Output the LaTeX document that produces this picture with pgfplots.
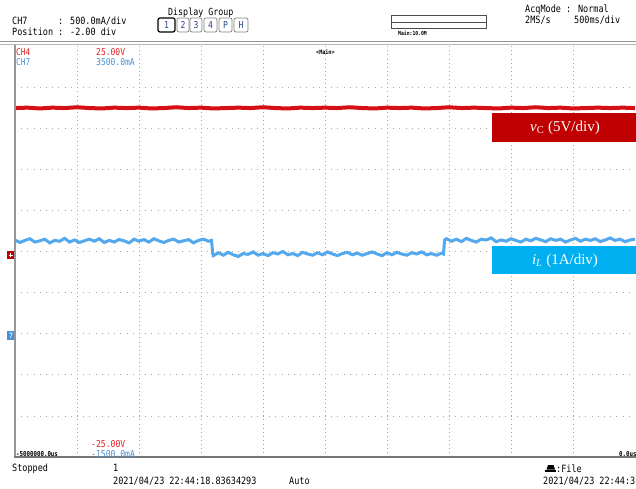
\documentclass[border=0pt]{standalone}
\usepackage{pgfplots}
\pgfplotsset{compat=1.18}
\usepackage{fontspec}
\newfontfamily\osc[FakeStretch=0.85]{DejaVu Sans Mono}
\newfontfamily\tnr{Liberation Serif}
\definecolor{sred}{RGB}{212,16,22}
\definecolor{sblue}{RGB}{84,168,238}
\definecolor{boxred}{RGB}{192,0,0}
\definecolor{boxblue}{RGB}{0,176,240}
\definecolor{lblred}{RGB}{225,30,30}
\definecolor{lblblue}{RGB}{70,145,215}
\definecolor{btn}{RGB}{40,70,140}
\definecolor{framec}{RGB}{150,150,150}
\definecolor{gridc}{RGB}{165,165,165}
\newcommand{\T}[5][black]{\node[anchor=base west,inner sep=0pt,text=#1,font=\osc\fontsize{#4}{#4}\selectfont] at (#2,488-#3) {#5};}
\begin{document}
\begin{tikzpicture}[x=1pt,y=1pt]
\clip (0,0) rectangle (636,488);
\fill[white] (0,0) rectangle (636,488);
\begin{axis}[at={(15pt,31pt)}, anchor=south west, scale only axis,
  width=620pt, height=411pt, xmin=-5, xmax=0, ymin=-5, ymax=5,
  axis line style={draw=none}, clip=false,
  xtick={-4.5,-4,...,-0.5}, ytick={-4,-3,...,4},
  xticklabels={}, yticklabels={}, major tick length=0pt,
  grid=major,
  x grid style={gridc, line width=0.7pt, dash pattern=on 0.7pt off 3.4pt},
  y grid style={gridc, line width=0.7pt, dash pattern=on 0.7pt off 5.5pt}]
\addplot[sred, line width=4pt] coordinates {(-5,3.49) (-4.9,3.50) (-4.8,3.48) (-4.7,3.50) (-4.6,3.49) (-4.5,3.51) (-4.4,3.49) (-4.3,3.48) (-4.2,3.50) (-4.1,3.49) (-4,3.50) (-3.9,3.48) (-3.8,3.49) (-3.7,3.51) (-3.6,3.49) (-3.5,3.50) (-3.4,3.48) (-3.3,3.49) (-3.2,3.50) (-3.1,3.49) (-3,3.51) (-2.9,3.49) (-2.8,3.48) (-2.7,3.50) (-2.6,3.49) (-2.5,3.50) (-2.4,3.49) (-2.3,3.51) (-2.2,3.49) (-2.1,3.48) (-2,3.50) (-1.9,3.49) (-1.8,3.50) (-1.7,3.48) (-1.6,3.49) (-1.5,3.51) (-1.4,3.49) (-1.3,3.50) (-1.2,3.49) (-1.1,3.48) (-1,3.50) (-0.9,3.49) (-0.8,3.51) (-0.7,3.49) (-0.6,3.50) (-0.5,3.48) (-0.4,3.49) (-0.3,3.50) (-0.2,3.49) (-0.1,3.50) (0,3.49)};
\addplot[sblue, line width=3pt, line join=miter] coordinates {
(-5.00,0.28) (-4.96,0.22) (-4.92,0.27) (-4.88,0.31) (-4.84,0.23) (-4.80,0.26) (-4.76,0.30) (-4.72,0.21) (-4.68,0.27) (-4.64,0.25)
(-4.60,0.32) (-4.56,0.23) (-4.52,0.28) (-4.48,0.22) (-4.44,0.26) (-4.40,0.30) (-4.36,0.25) (-4.32,0.31) (-4.28,0.22) (-4.24,0.27)
(-4.20,0.23) (-4.16,0.29) (-4.12,0.26) (-4.08,0.21) (-4.04,0.30) (-4.00,0.25) (-3.96,0.29) (-3.92,0.23) (-3.88,0.31) (-3.84,0.26)
(-3.80,0.22) (-3.76,0.27) (-3.72,0.30) (-3.68,0.23) (-3.64,0.26) (-3.60,0.29) (-3.56,0.21) (-3.52,0.27) (-3.48,0.30) (-3.44,0.25)
(-3.415,0.27) (-3.405,-0.06)
(-3.40,-0.10) (-3.36,-0.03) (-3.32,-0.09) (-3.28,-0.02) (-3.24,-0.08) (-3.20,-0.12) (-3.16,-0.05) (-3.12,-0.07) (-3.08,-0.01) (-3.04,-0.09)
(-3.00,-0.05) (-2.96,-0.10) (-2.92,-0.03) (-2.88,-0.06) (-2.84,0.00) (-2.80,-0.08) (-2.76,-0.05) (-2.72,-0.10) (-2.68,-0.02) (-2.64,-0.06)
(-2.60,-0.09) (-2.56,-0.03) (-2.52,-0.08) (-2.48,-0.01) (-2.44,-0.06) (-2.40,-0.10) (-2.36,-0.05) (-2.32,-0.02) (-2.28,-0.08) (-2.24,-0.04)
(-2.20,-0.09) (-2.16,-0.05) (-2.12,-0.01) (-2.08,-0.06) (-2.04,-0.10) (-2.00,-0.03) (-1.96,-0.08) (-1.92,-0.02) (-1.88,-0.06) (-1.84,-0.09)
(-1.80,-0.03) (-1.76,-0.06) (-1.72,-0.01) (-1.68,-0.08) (-1.64,-0.05) (-1.60,-0.09) (-1.56,-0.04) (-1.545,-0.06) (-1.535,0.28)
(-1.52,0.31) (-1.48,0.25) (-1.44,0.30) (-1.40,0.24) (-1.36,0.32) (-1.32,0.27) (-1.28,0.23) (-1.24,0.30) (-1.20,0.28) (-1.16,0.33)
(-1.12,0.24) (-1.08,0.28) (-1.04,0.25) (-1.00,0.31) (-0.96,0.27) (-0.92,0.23) (-0.88,0.30) (-0.84,0.26) (-0.80,0.32) (-0.76,0.28)
(-0.72,0.24) (-0.68,0.31) (-0.64,0.27) (-0.60,0.30) (-0.56,0.23) (-0.52,0.28) (-0.48,0.32) (-0.44,0.25) (-0.40,0.30) (-0.36,0.27)
(-0.32,0.31) (-0.28,0.24) (-0.24,0.28) (-0.20,0.33) (-0.16,0.27) (-0.12,0.30) (-0.08,0.24) (-0.04,0.28) (0.00,0.30)};
\end{axis}
% frame
\draw[framec, line width=1pt] (0,488-42) -- (636,488-42);
\draw[framec!70, line width=1pt] (0,488-45) -- (636,488-45);
\draw[framec, line width=2pt] (15,488-45.5) -- (15,31);
\draw[framec!80!black, line width=1.5pt] (14,31) -- (636,31);
% markers
\fill[boxred] (7,488-259) rectangle (14,488-251);
\draw[white, line width=0.6pt] (8.5,488-255) -- (12.5,488-255) (10.5,488-253) -- (10.5,488-257);
\fill[lblblue] (7,488-340) rectangle (14,488-331);
\draw[white, line width=0.6pt] (9,488-333) -- (12,488-333) -- (10.5,488-338);
% header
\T{12}{24.5}{10}{CH7}
\T{58}{24.5}{10}{: 500.0mA/div}
\T{12}{35.5}{10}{Position}
\T{58}{35.5}{10}{: -2.00 div}
\T{168}{15.5}{9.8}{Display Group}
\draw[black, line width=1.2pt, rounded corners=2pt] (158,488-32) rectangle (175,488-18);
\node[text=btn,font=\osc\fontsize{9.5}{9.5}\selectfont] at (166.5,488-25) {1};
\foreach \a/\b/\l in {177/189/2,190/202/3,204/217/4,219/232/P,234/248/H}{
  \draw[gray, line width=0.7pt, rounded corners=2pt] (\a,488-32) rectangle (\b,488-18);
  \node[text=btn,font=\osc\fontsize{9.5}{9.5}\selectfont] at ({(\a+\b)/2},488-25) {\l};
}
\draw[black!70, line width=0.7pt] (391,488-28) rectangle (486,488-15);
\draw[black!70, line width=0.7pt] (391,488-22) -- (486,488-22);
\T{398}{36}{5.6}{\bfseries Main:10.0M}
\T{525}{13}{10}{AcqMode : Normal}
\T{525}{23.5}{10}{2MS/s}
\T{574}{23.5}{10}{500ms/div}
% inside labels
\T[lblred]{16}{55.7}{9.2}{CH4}
\T[lblblue]{16}{65.7}{9.2}{CH7}
\T[lblred]{96}{55.7}{9.4}{25.00V}
\T[lblblue]{96}{65.7}{9.4}{3500.0mA}
\T{316}{55}{6}{\bfseries<Main>}
\T[lblred]{91}{447}{9.5}{-25.00V}
\T[lblblue]{91}{457}{9.5}{-1500.0mA}
\T{16}{456}{6.8}{\bfseries-5000000.0us}
\T{619}{456}{6.8}{\bfseries 0.0us}
% boxes
\fill[boxred] (492,488-142) rectangle (640,488-113);
\node[text=white,font=\tnr\fontsize{15}{15}\selectfont] at (565,488-128) {\textit{v}\textsubscript{C} (5V/div)};
\fill[boxblue] (492,488-274) rectangle (640,488-246);
\node[text=white,font=\tnr\fontsize{15}{15}\selectfont] at (565,488-260.5) {\textit{i}\textsubscript{\textit{L}} (1A/div)};
% footer
\T{12}{471}{10}{Stopped}
\T{113}{471}{10}{1}
\T{113}{484.5}{10}{2021/04/23 22:44:18.83634293}
\T{289}{484.5}{10}{Auto}
\fill[black] (545,488-472) rectangle (556,488-469.5);
\fill[black] (546.5,488-469.5) -- (555,488-469.5) -- (553.5,488-465) -- (548,488-465) -- cycle;
\T{556}{472}{10}{:File}
\T{543}{484.5}{10}{2021/04/23 22:44:3}
\end{tikzpicture}
\end{document}
